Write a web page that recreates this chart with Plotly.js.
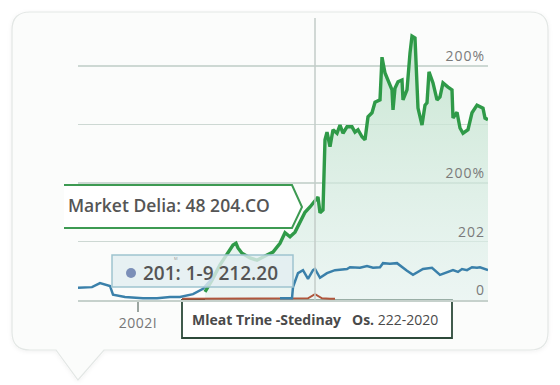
<!DOCTYPE html>
<html>
<head>
<meta charset="utf-8">
<script src="https://cdn.plot.ly/plotly-3.0.1.min.js"></script>
<style>
  html, body { margin: 0; padding: 0; background: #ffffff; }
  #wrap { position: relative; width: 560px; height: 385px; overflow: hidden; }
  #card { position: absolute; left: 0; top: 0; }
  #chart { position: absolute; left: 0; top: 0; width: 560px; height: 385px; }
  .ytick text { letter-spacing: 1px; }
  .xtick text { letter-spacing: 0.5px; }
</style>
</head>
<body>
<div id="wrap">
  <svg id="card" width="560" height="385">
    <defs>
      <filter id="sh" x="-5%" y="-5%" width="110%" height="115%">
        <feDropShadow dx="0" dy="1" stdDeviation="2" flood-color="#000" flood-opacity="0.06"/>
      </filter>
    </defs>
    <path d="M 30,12 H 530 Q 548,12 548,30 V 332 Q 548,350 530,350 H 104 L 78,380 L 56,350 H 30 Q 12,350 12,332 V 30 Q 12,12 30,12 Z"
          fill="#fbfcfb" stroke="#e3e7e5" stroke-width="1.2" filter="url(#sh)"/>
  </svg>
  <div id="chart"></div>
</div>
<script>
// ---- data (x: time index, y: value in axis units) ----
const greenX = [127,134,142,150,155,158,160,164,172,179,185,189,195,202,207,212,217,222,227,232,237,240,242,245,247,249,252,255,259,262,265,269,274,277,280,284,287,290,294,297,302,304,307,310,314,315,317,320,324,325,329,332,334,337,340,344,347,349,351,355,359,362,365,370,374,375,379,382,385,390,394,399,402,405,407,410];
const greenY = [0.14,0.34,0.60,0.82,0.94,0.97,0.89,0.80,0.72,0.68,0.74,0.77,0.82,0.97,1.15,1.08,1.16,1.33,1.50,1.59,1.71,1.76,1.49,1.54,2.74,2.87,2.62,2.91,2.85,2.99,2.85,2.96,2.96,2.87,2.91,2.79,2.74,3.13,3.20,3.38,3.42,4.15,3.88,3.76,3.59,3.25,3.62,3.73,3.76,3.42,3.59,4.22,4.51,4.48,3.28,2.99,3.33,3.37,3.90,3.71,3.42,3.47,3.71,3.64,3.59,3.11,3.21,2.94,2.85,2.91,3.20,3.33,3.30,3.28,3.11,3.08];

const blueX = [0,7,14,22,27,32,35,47,65,79,92,102,115,125,130,135,
               168,
               202,214,215,220,225,230,235,237,242,249,257,269,272,282,289,295,302,305,312,319,329,335,345,354,362,369,375,380,384,389,394,399,402,410];
const blueY = [0.21,0.21,0.22,0.29,0.26,0.24,0.09,0.05,0.03,0.03,0.05,0.05,0.10,0.19,0.29,0.38,
               null,
               0.03,0.03,0.22,0.46,0.51,0.36,0.51,0.53,0.38,0.46,0.51,0.53,0.56,0.55,0.58,0.55,0.56,0.63,0.62,0.63,0.50,0.43,0.53,0.55,0.43,0.48,0.51,0.48,0.53,0.51,0.56,0.55,0.56,0.51];

const redX = [104,222,230,237,244,252,257];
const redY = [0.02,0.02,0.03,0.10,0.03,0.02,0.02];

const yTickVals = [0, 1, 2, 3, 4];
const yTickText = ['0', '202', '200%', '', '200%'];
const xTickVals = [60];
const xTickText = ['2002I'];

const markerLabel = 'Market Delia: 48 204.CO';
const pointLabel = '201: 1-9 212.20';
const rangeLabelBold = 'Mleat Trine -Stedinay';
const rangeLabelPre = 'Os.';
const rangeLabelRest = '222-2020';
const cursorX = 237;

// ---- layout helpers (pixel -> paper) ----
const L = 78, R = 488, T = 18, B = 300;
const px = v => (v - L) / (R - L);
const py = v => (B - v) / (B - T);

const FONT = 'Open Sans, Lato, sans-serif';

const traces = [
  {
    x: greenX, y: greenY, type: 'scatter', mode: 'lines',
    line: { color: '#2f9a48', width: 3.4 },
    fill: 'tozeroy',
    fillcolor: 'rgba(200,230,212,0.6)',
    fillgradient: {
      type: 'vertical',
      colorscale: [[0, 'rgba(226,241,238,0.6)'], [1, 'rgba(190,225,201,0.82)']]
    },
    hoverinfo: 'skip'
  },
  {
    x: redX, y: redY, type: 'scatter', mode: 'lines',
    line: { color: '#b0563c', width: 2 }, hoverinfo: 'skip'
  },
  {
    x: blueX, y: blueY, type: 'scatter', mode: 'lines', connectgaps: false,
    line: { color: '#3a80aa', width: 2.5 }, hoverinfo: 'skip'
  }
];

const layout = {
  width: 560, height: 385, autosize: false,
  margin: { l: L, r: 560 - R, t: T, b: 385 - B, pad: 0 },
  paper_bgcolor: 'rgba(0,0,0,0)', plot_bgcolor: 'rgba(0,0,0,0)',
  showlegend: false,
  font: { family: FONT, color: '#777' },
  xaxis: {
    range: [0, 410], showgrid: false, zeroline: false,
    showline: true, linecolor: '#c6d1cc', linewidth: 1.5,
    tickvals: xTickVals, ticktext: xTickText,
    ticks: 'outside', ticklen: 10, tickwidth: 1.5, tickcolor: '#9aa5a0',
    tickfont: { size: 14, color: '#777', family: FONT },
    fixedrange: true
  },
  yaxis: {
    range: [0, 4.82], side: 'right',
    tickvals: yTickVals, ticktext: yTickText,
    ticklabelposition: 'inside top',
    showgrid: true, gridcolor: '#cdd8d3', gridwidth: 1.5,
    zeroline: false, showline: false, ticks: '',
    tickfont: { size: 14, color: '#7a7a7a', family: FONT },
    fixedrange: true
  },
  shapes: [
    { type: 'line', xref: 'x', yref: 'paper', x0: cursorX, x1: cursorX, y0: 0, y1: 1,
      line: { color: '#c3cdc8', width: 1.5 }, layer: 'above' },
    { type: 'path', xref: 'paper', yref: 'paper', layer: 'above',
      path: `M ${px(64)},${py(185)} L ${px(292)},${py(185)} L ${px(302)},${py(207)} L ${px(292)},${py(228)} L ${px(64)},${py(228)}`,
      fillcolor: '#ffffff', line: { color: '#3d9a52', width: 2 } },
    { type: 'rect', xref: 'paper', yref: 'paper', layer: 'above',
      x0: px(112), x1: px(293), y0: py(287), y1: py(255),
      fillcolor: 'rgba(226,238,241,0.8)', line: { color: '#9fc3cf', width: 1.5 } },
    { type: 'circle', xref: 'paper', yref: 'paper', layer: 'above',
      x0: px(126), x1: px(136), y0: py(278), y1: py(268),
      fillcolor: '#7b8fb8', line: { width: 0 } },
    { type: 'rect', xref: 'paper', yref: 'paper', layer: 'below',
      x0: px(182), x1: px(452), y0: py(338), y1: py(300),
      fillcolor: '#ffffff', line: { color: '#2d4a3a', width: 1.8 } }
  ],
  annotations: [
    { xref: 'paper', yref: 'paper', x: px(169), y: py(205), xanchor: 'center', yanchor: 'middle',
      text: markerLabel, showarrow: false,
      font: { family: FONT, size: 17.5, color: '#555', weight: 600 } },
    { xref: 'paper', yref: 'paper', x: px(210), y: py(273), xanchor: 'center', yanchor: 'middle',
      text: pointLabel, showarrow: false,
      font: { family: FONT, size: 19, color: '#555', weight: 600 } },
    { xref: 'paper', yref: 'paper', x: px(176), y: py(258), xanchor: 'center', yanchor: 'middle',
      text: 'M', showarrow: false, font: { family: FONT, size: 4, color: '#999' } },
    { xref: 'paper', yref: 'paper', x: px(315), y: py(319), xanchor: 'center', yanchor: 'middle',
      text: `<b>${rangeLabelBold}</b>   <b>${rangeLabelPre}</b> ${rangeLabelRest}`, showarrow: false,
      font: { family: FONT, size: 14, color: '#4a4a4a' } }
  ]
};

Plotly.newPlot('chart', traces, layout, { staticPlot: true, displayModeBar: false });
</script>
</body>
</html>
